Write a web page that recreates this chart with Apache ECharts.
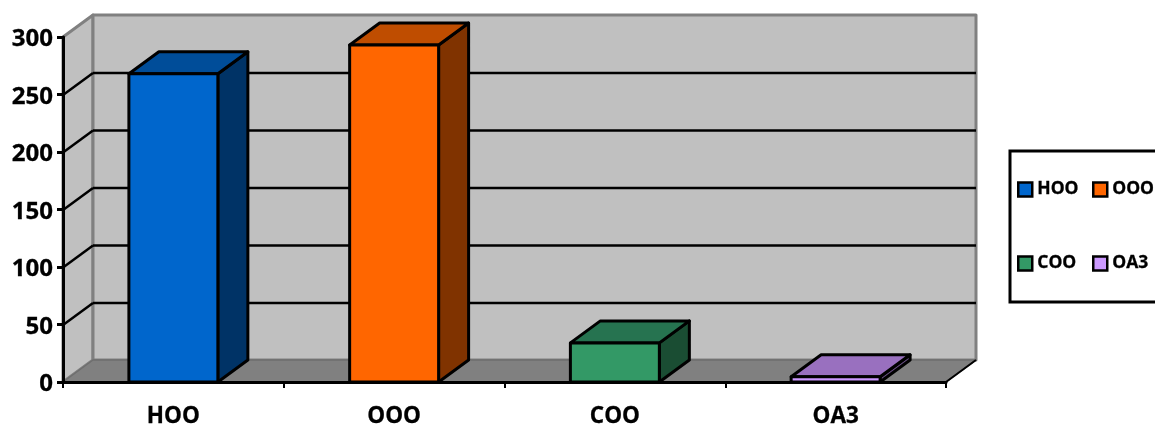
<!DOCTYPE html>
<html>
<head>
<meta charset="utf-8">
<script src="https://cdn.jsdelivr.net/npm/echarts@6/dist/echarts.min.js"></script>
<style>html,body{margin:0;padding:0;background:#fff;overflow:hidden}#c{width:1155px;height:424px}</style>
</head>
<body>
<div id="c"></div>
<script>
var categories = ['HOO', 'OOO', 'COO', 'OA3'];
var values = [268, 293, 34, 4.5];
var tickValues = [0, 50, 100, 150, 200, 250, 300];
var frontColors = ['#0066cc', '#ff6600', '#339966', '#cc99ff'];
var topColors = ['#004d99', '#bf4d00', '#267350', '#9970bf'];
var sideColors = ['#003366', '#803300', '#1a4d33', '#664d80'];

var DX = 30, DY = -22, LW = 3, BAR_RATIO = 0.403;

function poly(pts, fill, stroke, w) {
  return {type: 'polygon', shape: {points: pts},
    style: {fill: fill, stroke: stroke, lineWidth: w, lineJoin: 'round'}};
}
function seg(x1, y1, x2, y2, color, w) {
  return {type: 'line', shape: {x1: x1, y1: y1, x2: x2, y2: y2},
    style: {stroke: color, lineWidth: w, fill: null}};
}
function renderWalls(params, api) {
  var g = params.coordSys, L = g.x, R = g.x + g.width, T = g.y, B = g.y + g.height;
  var edge = '#808080';
  return {type: 'group', children: [
    poly([[L, B], [L + DX, B + DY], [L + DX, T + DY], [L, T]], '#c0c0c0', edge, 3),
    poly([[L + DX, T + DY], [R + DX, T + DY], [R + DX, B + DY], [L + DX, B + DY]], '#c0c0c0', edge, 3),
    poly([[L, B], [R, B], [R + DX, B + DY], [L + DX, B + DY]], '#808080', '#6e6e6e', 1.5),
    seg(R, B, R + DX, B + DY, '#000', 2)
  ]};
}
function renderGrid(params, api) {
  var g = params.coordSys, L = g.x, R = g.x + g.width;
  var y = api.coord([0, api.value(1)])[1] + 0.5;
  return {type: 'group', children: [
    seg(L, y, L + DX, y + DY, '#000', 2.5),
    seg(L + DX, y + DY, R + DX, y + DY, '#000', 2.5)
  ]};
}
function makeBar(i) {
  return function (params, api) {
    var p = api.coord([api.value(0), api.value(1)]);
    var base = api.coord([api.value(0), 0]);
    var w = api.size([1, 0])[0] * BAR_RATIO;
    var l = p[0] - w / 2, r = p[0] + w / 2, t = p[1], b = base[1];
    return {type: 'group', children: [
      poly([[r, t], [r + DX, t + DY], [r + DX, b + DY], [r, b]], sideColors[i], '#000', LW),
      poly([[l, t], [l + DX, t + DY], [r + DX, t + DY], [r, t]], topColors[i], '#000', LW),
      poly([[l, t], [r, t], [r, b], [l, b]], frontColors[i], '#000', LW)
    ]};
  };
}

var series = [
  {type: 'custom', name: 'walls', renderItem: renderWalls, data: [[0, 0]], z: 1, silent: true, clip: false},
  {type: 'custom', name: 'grid', renderItem: renderGrid, encode: {x: 0, y: 1},
    data: tickValues.slice(1, -1).map(function (t) { return [0, t]; }), z: 2, silent: true, clip: false}
];
categories.forEach(function (c, i) {
  series.push({type: 'custom', name: c, renderItem: makeBar(i), encode: {x: 0, y: 1},
    data: [[c, values[i]]], z: 3, clip: false,
    itemStyle: {color: frontColors[i], borderColor: '#000', borderWidth: 2}});
});

function legend(names, left) {
  return {orient: 'vertical', left: left, top: 179, padding: 0, itemGap: 53,
    itemWidth: 14, itemHeight: 14, itemTextGap: 6, icon: 'rect', selectedMode: false, data: names,
    itemStyle: {borderColor: '#000', borderWidth: 2.5},
    textStyle: {fontFamily: 'Open Sans', fontWeight: 'bold', fontSize: 17.5, color: '#000',
      lineHeight: 18, padding: [3, 0, 0, 0], textBorderColor: '#000', textBorderWidth: 0.3}};
}

var chart = echarts.init(document.getElementById('c'), null, {renderer: 'canvas'});
chart.setOption({
  animation: false,
  backgroundColor: '#fff',
  grid: {left: 63, right: 209, top: 37, bottom: 42, outerBoundsMode: 'none', containLabel: false},
  legend: [legend([categories[0], categories[2]], 1017), legend([categories[1], categories[3]], 1092)],
  xAxis: {type: 'category', data: categories, z: 10,
    axisLine: {onZero: false, lineStyle: {color: '#000', width: 3}},
    axisTick: {show: true, alignWithLabel: false, length: 6, lineStyle: {color: '#000', width: 2}},
    axisLabel: {margin: 23, color: '#000', fontFamily: 'Open Sans', fontWeight: 'bold', fontSize: 22.5, interval: 0,
      textBorderColor: '#000', textBorderWidth: 0.3}},
  yAxis: {type: 'value', min: 0, max: 300, interval: 50, z: 10,
    axisLine: {show: true, lineStyle: {color: '#000', width: 3}},
    axisTick: {show: true, length: 6, lineStyle: {color: '#000', width: 3}},
    splitLine: {show: false},
    axisLabel: {margin: 10, color: '#000', fontFamily: 'Open Sans', fontWeight: 'bold', fontSize: 24,
      verticalAlign: 'top', lineHeight: 5, textBorderColor: '#000', textBorderWidth: 0.3}},
  graphic: [{type: 'rect', shape: {x: 1010, y: 151, width: 170, height: 151},
    style: {fill: '#fff', stroke: '#000', lineWidth: 3}, z: -1}],
  series: series
});
</script>
</body>
</html>
